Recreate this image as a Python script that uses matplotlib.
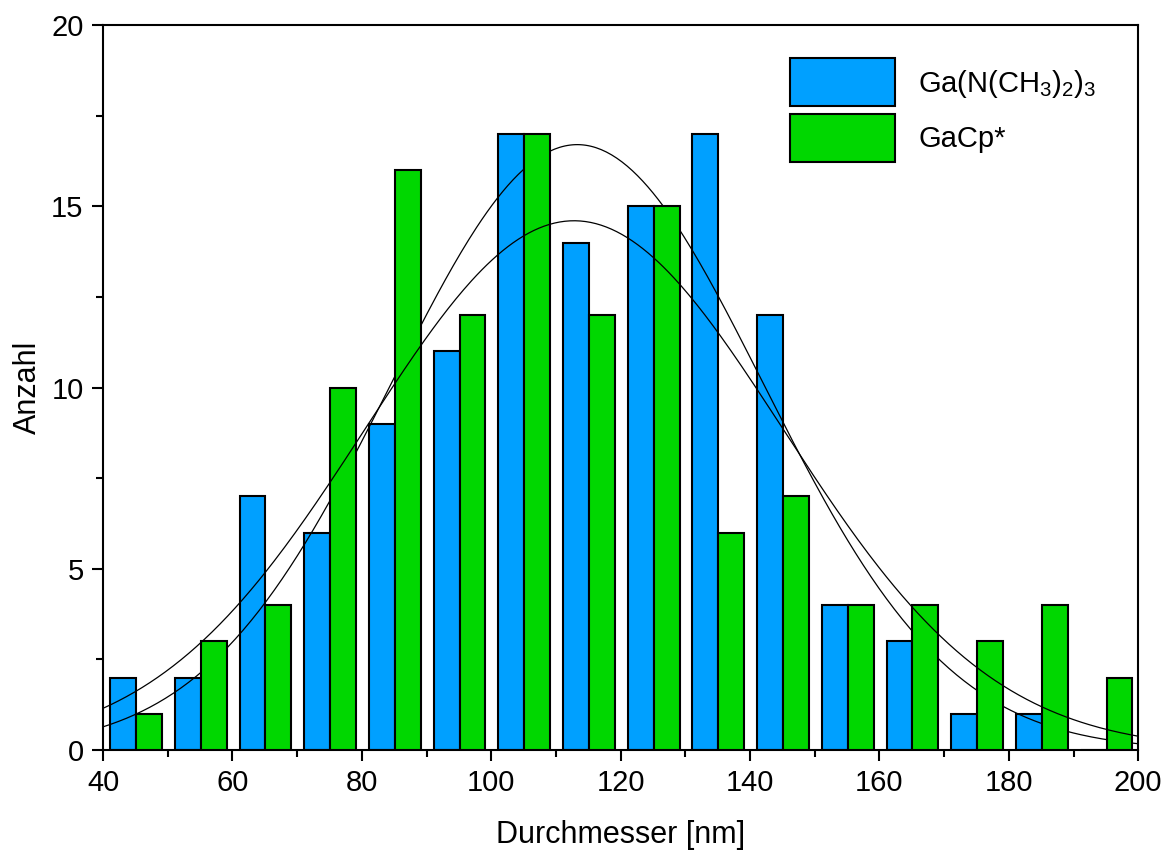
import numpy as np
import matplotlib
matplotlib.use("Agg")
import matplotlib.pyplot as plt
from matplotlib.ticker import MultipleLocator

plt.rcParams['font.family'] = ['Liberation Sans', 'DejaVu Sans']
plt.rcParams['mathtext.default'] = 'regular'

# histogram bins (left edges, nm)
bin_left = [40, 50, 60, 70, 80, 90, 100, 110, 120, 130, 140, 150, 160, 170, 180, 190]
count_amid = [2, 2, 7, 6, 9, 11, 17, 14, 15, 17, 12, 4, 3, 1, 1, 0]
count_cp = [1, 3, 4, 10, 16, 12, 17, 12, 15, 6, 7, 4, 4, 3, 4, 2]

# gaussian fits: (center, sigma, peak height)
fit_amid = (113.3, 28.7, 16.7)
fit_cp = (112.8, 32.3, 14.6)

label_amid = 'Ga(N(CH$_3$)$_2$)$_3$'
label_cp = 'GaCp*'

blue = '#00A0FF'
green = '#00D700'

fig = plt.figure(figsize=(11.71, 8.5), dpi=100)
ax = fig.add_axes([0.088, 0.1176, 0.884, 0.853])

left = np.array(bin_left, dtype=float)
ax.bar(left + 3.1, count_amid, width=4, color=blue, edgecolor='black',
       linewidth=1.5, label=label_amid, zorder=1)

xs = np.linspace(40, 200, 400)
mu, sig, amp = fit_amid
ax.plot(xs, amp * np.exp(-(xs - mu) ** 2 / (2 * sig ** 2)), color='black', lw=0.9, zorder=2)

ax.bar(left + 7.1, count_cp, width=4, color=green, edgecolor='black',
       linewidth=1.5, label=label_cp, zorder=3)

mu, sig, amp = fit_cp
ax.plot(xs, amp * np.exp(-(xs - mu) ** 2 / (2 * sig ** 2)), color='black', lw=0.9, zorder=4)

ax.set_xlim(40, 200)
ax.set_ylim(0, 20)
ax.xaxis.set_major_locator(MultipleLocator(20))
ax.xaxis.set_minor_locator(MultipleLocator(10))
ax.yaxis.set_major_locator(MultipleLocator(5))
ax.yaxis.set_minor_locator(MultipleLocator(2.5))
ax.tick_params(which='both', direction='out', width=1.5, labelsize=21, top=False, right=False)
ax.tick_params(which='major', length=8, pad=6)
ax.tick_params(which='minor', length=5)
for s in ax.spines.values():
    s.set_linewidth(1.5)

ax.set_xlabel('Durchmesser [nm]', fontsize=22, labelpad=16)
ax.set_ylabel('Anzahl', fontsize=22, labelpad=6)

ax.legend(loc='upper right', bbox_to_anchor=(0.985, 0.99), frameon=False, fontsize=21,
          handlelength=3.6, handleheight=2.15, handletextpad=0.8, labelspacing=0.25)

fig.savefig('out.png', dpi=100)
